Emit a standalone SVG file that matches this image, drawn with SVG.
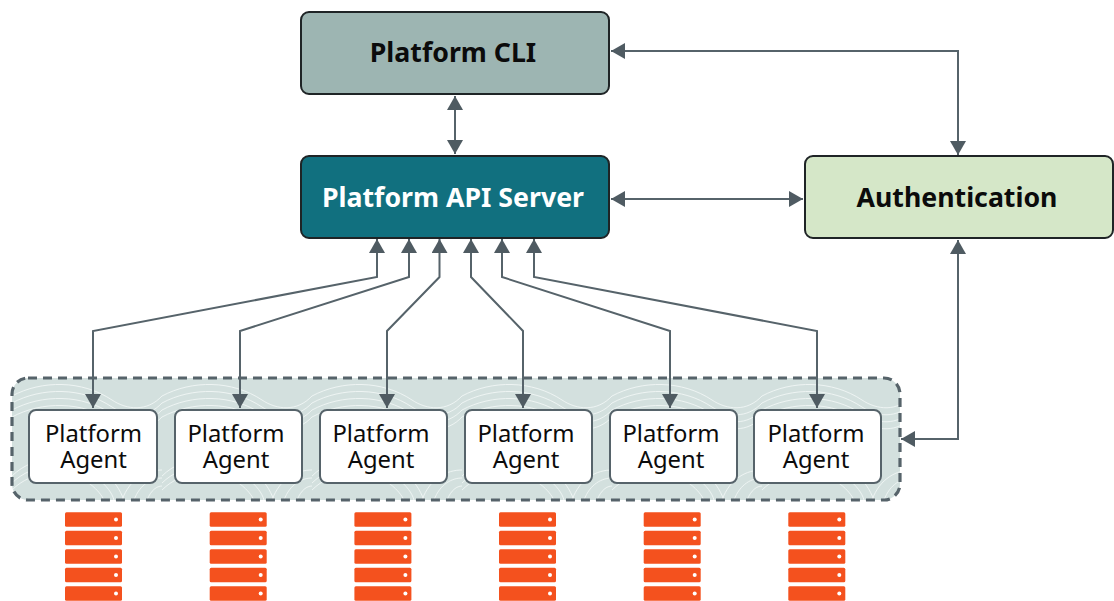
<svg xmlns="http://www.w3.org/2000/svg" width="1114" height="601" viewBox="0 0 1114 601">
<style>
.t{font-family:"Noto Sans","Open Sans",sans-serif;text-anchor:middle}
.b{font-weight:700;font-size:26.7px}
.a{font-size:23.8px;fill:#0b0b0b}
.box{stroke:#1f2426;stroke-width:2}
.agent{fill:#fff;stroke:#56636a;stroke-width:2}
.c{fill:none;stroke:#56636a;stroke-width:2;marker-start:url(#ah);marker-end:url(#ah)}
.s{fill:#f4511e}
.d{fill:#fff}
.w{fill:none;stroke:#eef4f3;stroke-width:1}
</style>
<defs>
<marker id="ah" viewBox="0 0 14 16" refX="14" refY="8" markerWidth="14" markerHeight="16" markerUnits="userSpaceOnUse" orient="auto-start-reverse"><path d="M0 0L14 8L0 16Z" fill="#4f5b62"/></marker>
<pattern id="tex" width="150" height="122" patternUnits="userSpaceOnUse" x="12" y="378"><path class="w" d="M0 18C30 2 70 2 100 22C115 32 135 34 150 18M0 25C30 9 70 9 100 29C115 39 135 41 150 25M0 32C30 16 70 16 100 36C115 46 135 48 150 32M0 39C30 23 70 23 100 43C115 53 135 55 150 39M0 105C20 85 60 80 85 100C95 108 100 115 102 122M0 112C20 92 55 88 78 106C86 112 90 118 92 122M0 98C22 76 66 72 92 94C102 102 108 112 112 122M110 122C118 100 135 92 150 92M122 122C128 106 140 100 150 100M135 122C139 112 145 108 150 108"/></pattern>
<g id="srv"><rect class="s" x="0" y="0" width="57" height="14.5" rx="1.5"/><circle class="d" cx="51" cy="7.3" r="2"/></g>
<g id="rack"><use href="#srv"/><use href="#srv" y="18.5"/><use href="#srv" y="37"/><use href="#srv" y="55.5"/><use href="#srv" y="74"/></g>
</defs>
<g id="agent-pool"><rect x="12" y="378" width="888" height="122" rx="16" fill="#d3e0de"/><rect x="12" y="378" width="888" height="122" rx="16" fill="url(#tex)"/><rect x="12" y="378" width="888" height="122" rx="16" fill="none" stroke="#56636a" stroke-width="3.2" stroke-dasharray="9 6"/></g>
<g id="platform-cli"><rect class="box" x="301" y="12" width="308" height="82" rx="8" fill="#9db5b2"/><text class="t b" x="453" y="62" fill="#0b0b0b">Platform CLI</text></g>
<g id="platform-api-server"><rect class="box" x="301" y="156" width="308" height="82" rx="8" fill="#11707f"/><text class="t b" x="453" y="207" fill="#fff">Platform API Server</text></g>
<g id="authentication"><rect class="box" x="805" y="156" width="308" height="82" rx="8" fill="#d5e7c8"/><text class="t b" x="957" y="207" fill="#0b0b0b">Authentication</text></g>
<g id="agent-1"><rect class="agent" x="29" y="410" width="128" height="73" rx="7"/><text class="t a"><tspan x="93.5" y="442">Platform</tspan><tspan x="93.5" y="468">Agent</tspan></text></g>
<g id="agent-2"><rect class="agent" x="175" y="410" width="127" height="73" rx="7"/><text class="t a"><tspan x="236" y="442">Platform</tspan><tspan x="236" y="468">Agent</tspan></text></g>
<g id="agent-3"><rect class="agent" x="320" y="410" width="127" height="73" rx="7"/><text class="t a"><tspan x="381" y="442">Platform</tspan><tspan x="381" y="468">Agent</tspan></text></g>
<g id="agent-4"><rect class="agent" x="465" y="410" width="127" height="73" rx="7"/><text class="t a"><tspan x="526" y="442">Platform</tspan><tspan x="526" y="468">Agent</tspan></text></g>
<g id="agent-5"><rect class="agent" x="610" y="410" width="127" height="73" rx="7"/><text class="t a"><tspan x="671" y="442">Platform</tspan><tspan x="671" y="468">Agent</tspan></text></g>
<g id="agent-6"><rect class="agent" x="754" y="410" width="127" height="73" rx="7"/><text class="t a"><tspan x="816" y="442">Platform</tspan><tspan x="816" y="468">Agent</tspan></text></g>
<g id="servers">
<use href="#rack" x="65" y="512.3"/><use href="#rack" x="209.7" y="512.3"/><use href="#rack" x="354.4" y="512.3"/><use href="#rack" x="499" y="512.3"/><use href="#rack" x="643.7" y="512.3"/><use href="#rack" x="788.3" y="512.3"/>
</g>
<g id="connectors">
<path class="c" d="M455 96V154"/>
<path class="c" d="M611 51H958V155"/>
<path class="c" d="M611 199H803"/>
<path class="c" d="M958 240V439H901"/>
<path class="c" d="M377 239V277L93 331V408"/>
<path class="c" d="M409 239V277L240 331V408"/>
<path class="c" d="M439.5 239V277L387 331V408"/>
<path class="c" d="M471 239V277L523 331V408"/>
<path class="c" d="M502 239V277L670 331V408"/>
<path class="c" d="M534 239V277L817 331V408"/>
</g>
</svg>
